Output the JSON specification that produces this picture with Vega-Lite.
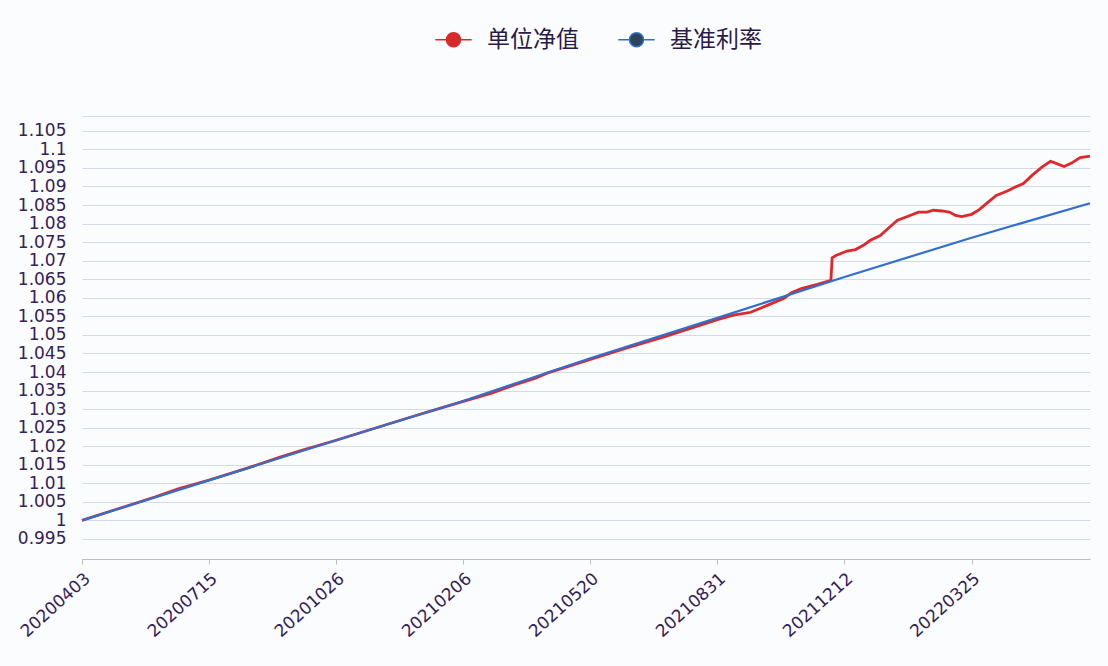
{
  "$schema": "https://vega.github.io/schema/vega-lite/v6.json",
  "width": 1008,
  "height": 443,
  "autosize": {"type": "none"},
  "padding": {"left": 82, "top": 116, "right": 18, "bottom": 107},
  "background": "#fbfcfe",
  "config": {"view": {"stroke": null}, "font": "DejaVu Sans"},
  "datasets": {
    "nav": [
      {"date": "2020-04-03", "series": "单位净值", "value": 1.0000},
      {"date": "2020-05-01", "series": "单位净值", "value": 1.0030},
      {"date": "2020-06-01", "series": "单位净值", "value": 1.0063},
      {"date": "2020-06-20", "series": "单位净值", "value": 1.0085},
      {"date": "2020-07-15", "series": "单位净值", "value": 1.0109},
      {"date": "2020-08-15", "series": "单位净值", "value": 1.0141},
      {"date": "2020-09-10", "series": "单位净值", "value": 1.0170},
      {"date": "2020-09-28", "series": "单位净值", "value": 1.0189},
      {"date": "2020-10-26", "series": "单位净值", "value": 1.0216},
      {"date": "2020-11-25", "series": "单位净值", "value": 1.0247},
      {"date": "2020-12-25", "series": "单位净值", "value": 1.0278},
      {"date": "2021-01-20", "series": "单位净值", "value": 1.0304},
      {"date": "2021-02-06", "series": "单位净值", "value": 1.0321},
      {"date": "2021-03-01", "series": "单位净值", "value": 1.0343},
      {"date": "2021-03-20", "series": "单位净值", "value": 1.0366},
      {"date": "2021-04-05", "series": "单位净值", "value": 1.0383},
      {"date": "2021-04-15", "series": "单位净值", "value": 1.0397},
      {"date": "2021-05-20", "series": "单位净值", "value": 1.0434},
      {"date": "2021-06-20", "series": "单位净值", "value": 1.0466},
      {"date": "2021-07-20", "series": "单位净值", "value": 1.0496},
      {"date": "2021-08-31", "series": "单位净值", "value": 1.0541},
      {"date": "2021-09-13", "series": "单位净值", "value": 1.0553},
      {"date": "2021-09-27", "series": "单位净值", "value": 1.0561},
      {"date": "2021-10-10", "series": "单位净值", "value": 1.0579},
      {"date": "2021-10-24", "series": "单位净值", "value": 1.0599},
      {"date": "2021-10-30", "series": "单位净值", "value": 1.0614},
      {"date": "2021-11-07", "series": "单位净值", "value": 1.0625},
      {"date": "2021-11-20", "series": "单位净值", "value": 1.0636},
      {"date": "2021-12-01", "series": "单位净值", "value": 1.0647},
      {"date": "2021-12-02", "series": "单位净值", "value": 1.0708},
      {"date": "2021-12-05", "series": "单位净值", "value": 1.0714},
      {"date": "2021-12-14", "series": "单位净值", "value": 1.0726},
      {"date": "2021-12-21", "series": "单位净值", "value": 1.0730},
      {"date": "2021-12-28", "series": "单位净值", "value": 1.0743},
      {"date": "2022-01-02", "series": "单位净值", "value": 1.0755},
      {"date": "2022-01-10", "series": "单位净值", "value": 1.0768},
      {"date": "2022-01-17", "series": "单位净值", "value": 1.0789},
      {"date": "2022-01-24", "series": "单位净值", "value": 1.0809},
      {"date": "2022-02-01", "series": "单位净值", "value": 1.0819},
      {"date": "2022-02-10", "series": "单位净值", "value": 1.0831},
      {"date": "2022-02-17", "series": "单位净值", "value": 1.0831},
      {"date": "2022-02-22", "series": "单位净值", "value": 1.0836},
      {"date": "2022-03-01", "series": "单位净值", "value": 1.0834},
      {"date": "2022-03-07", "series": "单位净值", "value": 1.0831},
      {"date": "2022-03-12", "series": "单位净值", "value": 1.0822},
      {"date": "2022-03-17", "series": "单位净值", "value": 1.0819},
      {"date": "2022-03-25", "series": "单位净值", "value": 1.0825},
      {"date": "2022-03-31", "series": "单位净值", "value": 1.0837},
      {"date": "2022-04-06", "series": "单位净值", "value": 1.0854},
      {"date": "2022-04-14", "series": "单位净值", "value": 1.0876},
      {"date": "2022-04-23", "series": "单位净值", "value": 1.0888},
      {"date": "2022-04-29", "series": "单位净值", "value": 1.0898},
      {"date": "2022-05-06", "series": "单位净值", "value": 1.0908},
      {"date": "2022-05-13", "series": "单位净值", "value": 1.0930},
      {"date": "2022-05-21", "series": "单位净值", "value": 1.0952},
      {"date": "2022-05-28", "series": "单位净值", "value": 1.0968},
      {"date": "2022-06-01", "series": "单位净值", "value": 1.0963},
      {"date": "2022-06-08", "series": "单位净值", "value": 1.0954},
      {"date": "2022-06-14", "series": "单位净值", "value": 1.0963},
      {"date": "2022-06-21", "series": "单位净值", "value": 1.0978},
      {"date": "2022-06-29", "series": "单位净值", "value": 1.0982}
    ],
    "bench": [
      {"date": "2020-04-03", "series": "基准利率", "value": 1.0000},
      {"date": "2020-07-15", "series": "基准利率", "value": 1.0108},
      {"date": "2020-10-26", "series": "基准利率", "value": 1.0216},
      {"date": "2021-02-06", "series": "基准利率", "value": 1.0322},
      {"date": "2021-05-20", "series": "基准利率", "value": 1.0437},
      {"date": "2021-08-31", "series": "基准利率", "value": 1.0546},
      {"date": "2021-12-12", "series": "基准利率", "value": 1.0656},
      {"date": "2022-03-25", "series": "基准利率", "value": 1.0762},
      {"date": "2022-06-29", "series": "基准利率", "value": 1.0855}
    ]
  },
  "encoding": {
    "x": {
      "field": "date",
      "type": "temporal",
      "scale": {
        "type": "utc",
        "domain": [
          {"year": 2020, "month": 4, "date": 3, "utc": true},
          {"year": 2022, "month": 6, "date": 29, "utc": true}
        ]
      },
      "axis": {
        "title": null,
        "values": [
          {"year": 2020, "month": 4, "date": 3, "utc": true},
          {"year": 2020, "month": 7, "date": 15, "utc": true},
          {"year": 2020, "month": 10, "date": 26, "utc": true},
          {"year": 2021, "month": 2, "date": 6, "utc": true},
          {"year": 2021, "month": 5, "date": 20, "utc": true},
          {"year": 2021, "month": 8, "date": 31, "utc": true},
          {"year": 2021, "month": 12, "date": 12, "utc": true},
          {"year": 2022, "month": 3, "date": 25, "utc": true}
        ],
        "labelExpr": "utcFormat(datum.value, '%Y%m%d')",
        "labelAngle": -42,
        "labelFontSize": 17,
        "labelFont": "DejaVu Sans",
        "labelColor": "#33215a",
        "labelPadding": 6,
        "labelOverlap": false,
        "labelBound": false,
        "labelFlush": false,
        "grid": false,
        "domainColor": "#b9bec8",
        "tickColor": "#b9bec8",
        "tickSize": 5
      }
    },
    "y": {
      "field": "value",
      "type": "quantitative",
      "scale": {"domain": [0.9896, 1.109], "zero": false, "nice": false},
      "axis": {
        "title": null,
        "values": [0.9896, 0.995, 1, 1.005, 1.01, 1.015, 1.02, 1.025, 1.03, 1.035, 1.04, 1.045, 1.05, 1.055, 1.06, 1.065, 1.07, 1.075, 1.08, 1.085, 1.09, 1.095, 1.1, 1.105, 1.109],
        "labelExpr": "datum.value > 1.106 || datum.value < 0.99 ? '' : format(datum.value, '.3~f')",
        "grid": true,
        "gridColor": "#d5dbe4",
        "gridWidth": 1,
        "domain": false,
        "ticks": false,
        "labelFontSize": 17,
        "labelFont": "DejaVu Sans",
        "labelColor": "#33215a",
        "labelPadding": 16
      }
    },
    "color": {
      "field": "series",
      "type": "nominal",
      "scale": {"domain": ["单位净值", "基准利率"], "range": ["#e3262a", "#2f70cf"]},
      "legend": {
        "orient": "none",
        "legendX": 360,
        "legendY": -88,
        "direction": "horizontal",
        "title": null,
        "padding": 0,
        "symbolType": "M -2.6 0 L -1 0 M 1 0 L 2.6 0 M -1 0 A 1 1 0 1 1 1 0 A 1 1 0 1 1 -1 0 Z",
        "symbolSize": 196,
        "symbolStrokeWidth": 1.5,
        "labelFontSize": 23,
        "labelFont": "Noto Sans CJK SC",
        "labelColor": "#2a1a4a",
        "labelOffset": 22,
        "columnPadding": 36,
        "encode": {
          "symbols": {
            "update": {
              "fill": {"signal": "datum.value === '单位净值' ? '#d42a2a' : '#2b4459'"},
              "stroke": {"signal": "datum.value === '单位净值' ? '#e0504a' : '#4a6478'"},
              "opacity": {"value": 1}
            }
          }
        }
      }
    }
  },
  "layer": [
    {"data": {"name": "nav"}, "mark": {"type": "line", "strokeWidth": 2.8}},
    {"data": {"name": "bench"}, "mark": {"type": "line", "strokeWidth": 2.2}}
  ]
}
